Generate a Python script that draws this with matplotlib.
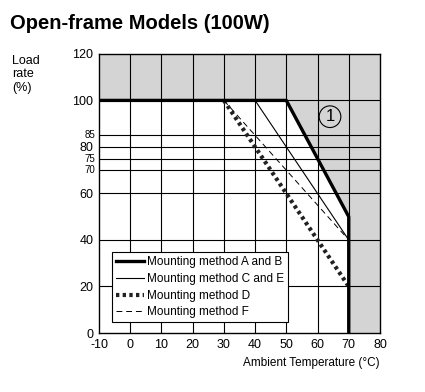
import matplotlib.pyplot as plt

plt.rcParams['font.family'] = ['Liberation Sans', 'DejaVu Sans']

# derating curves: (ambient temperature, load rate)
temp_ab = [-10, 50, 70, 70]
load_ab = [100, 100, 50, 0]
temp_ce = [40, 70]
load_ce = [100, 40]
temp_d = [30, 70]
load_d = [100, 20]
temp_f = [30, 70]
load_f = [100, 40]

x_ticks = [-10, 0, 10, 20, 30, 40, 50, 60, 70, 80]
y_major = [0, 20, 40, 60, 80, 100, 120]
y_minor = [70, 75, 85]

fig = plt.figure(figsize=(4.25, 3.92), dpi=100)
ax = fig.add_axes([0.233, 0.1505, 0.661, 0.712])
ax.set_xlim(-10, 80)
ax.set_ylim(0, 120)

shade = '#d4d4d4'
ax.fill_between([-10, 80], 100, 120, color=shade, lw=0, zorder=0)
ax.fill([50, 70, 70, 80, 80], [100, 50, 0, 0, 100], color=shade, lw=0, zorder=0)

for x in x_ticks[1:-1]:
    ax.axvline(x, color='black', lw=0.8, zorder=1)
for y in [20, 40, 60, 70, 75, 80, 85, 100]:
    ax.axhline(y, color='black', lw=0.8, zorder=1)

ax.plot(temp_ab, load_ab, color='black', lw=2.4, zorder=4, label='Mounting method A and B')
ax.plot(temp_ce, load_ce, color='black', lw=0.8, zorder=3, label='Mounting method C and E')
ax.plot(temp_d, load_d, color='#222222', lw=3, ls=(0, (0.8, 0.8)), zorder=3,
        label='Mounting method D')
ax.plot(temp_f, load_f, color='black', lw=0.7, ls=(0, (6, 4)), zorder=3,
        label='Mounting method F')

ax.text(64, 93, '1', fontsize=12, ha='center', va='center',
        bbox=dict(boxstyle='circle,pad=0.2', fc='none', ec='black', lw=0.8))

ax.set_xticks(x_ticks)
ax.set_xticklabels([str(v) for v in x_ticks], fontsize=9)
ax.set_yticks(y_major)
ax.set_yticklabels([str(v) for v in y_major], fontsize=9)
ax.tick_params(length=0, pad=4)
for y in y_minor:
    ax.text(-11.3, y, str(y), fontsize=7, ha='right', va='center')

for s in ax.spines.values():
    s.set_linewidth(1)

leg = ax.legend(loc='upper left', bbox_to_anchor=(0.046, 0.29), fontsize=8.5,
                frameon=True, fancybox=False, handlelength=2.4, handletextpad=0.2,
                borderpad=0.35, labelspacing=0.4, borderaxespad=0)
leg.get_frame().set_edgecolor('black')
leg.get_frame().set_linewidth(0.8)
leg.get_frame().set_alpha(1)

fig.text(0.024, 0.925, 'Open-frame Models (100W)', fontsize=14.5, fontweight='bold')
fig.text(0.028, 0.86, 'Load\nrate\n(%)', fontsize=9, va='top', linespacing=1.15)
ax.text(1.0, -0.085, 'Ambient Temperature (°C)', transform=ax.transAxes,
        ha='right', va='top', fontsize=8.5)

fig.savefig('out.png', dpi=100)
